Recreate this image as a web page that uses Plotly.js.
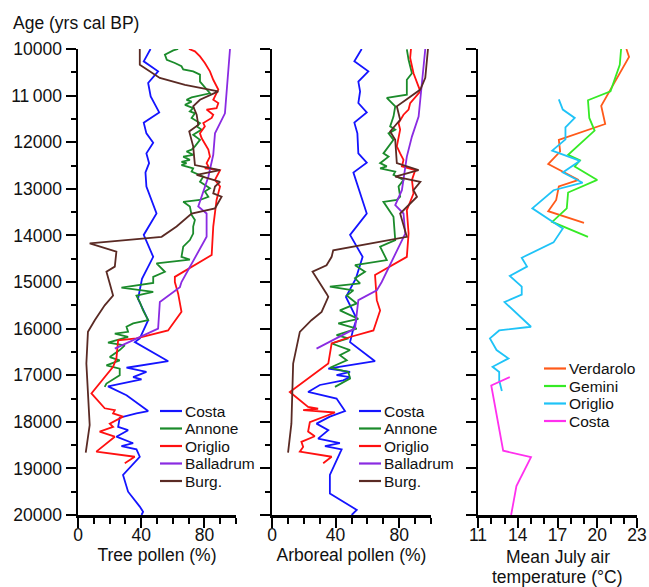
<!DOCTYPE html>
<html>
<head>
<meta charset="utf-8">
<script src="https://cdn.plot.ly/plotly-3.0.1.min.js"></script>
<style>
  html, body { margin: 0; padding: 0; background: #fff; }
  #chart { width: 649px; height: 587px; }
</style>
</head>
<body>
<div id="chart"></div>
<script>
// ---------- Tree pollen (%) ----------
const costaTreeAge = [10000,10265,10480,10730,11020,11360,11580,11810,12010,12240,12450,12650,12950,13530,13990,14460,14930,15360,15820,16210,16290,16700,16840,16930,17040,17090,17240,17430,17770,17820,17910,18110,18180,18320,18460,18520,18590,18750,19140,19500,19820,19930,20000];
const costaTreeVal = [45.9,41.6,50.7,44.4,46,51.4,41.6,43.3,47.6,43.3,45,42.7,43.3,49.7,41.6,47.6,40.5,38,44.4,39.1,36,57.1,30.7,43.3,34.9,40.2,19,30.7,44.4,37,26.4,25.4,31.7,24.3,34.9,27.5,37,39.1,28.5,31.7,39.1,41.2,40.2];

const annoneTreeAge = [10000,10030,10120,10230,10300,10370,10440,10480,10550,10700,10950,11040,11090,11130,11200,11270,11340,11380,11480,11590,11660,11730,11840,11950,12090,12160,12200,12270,12310,12380,12420,12450,12490,12520,12560,12630,12700,12740,12850,12920,12990,13060,13170,13240,13280,13380,13560,13670,13810,13960,14100,14240,14460,14520,14600,14780,14890,15020,15120,15210,15290,15430,15610,15820,15890,15960,16070,16110,16180,16300,16360,16460,16610,16680,16790,16860,17000,17180,17250];
const annoneTreeVal = [63.4,60.3,55,56.2,61.3,65.5,66.6,72.9,77.2,77.2,83.5,71.9,68.7,71.9,67.7,72.9,70.8,74,71.9,77.2,75.1,78.2,72.9,77.2,74,71.9,68.7,72.9,66.6,70.8,65.5,68.7,65.5,68.7,72.9,71.9,77.2,79.3,77.2,80.3,83.5,80.3,82.5,77.2,66.6,70.8,71.9,74,72.9,72.9,70.8,66.6,65.5,70.8,49.7,55,47.6,47.6,27.5,47.6,37,39.1,41.2,44.4,34.9,30.7,31.7,23.3,31.7,19,29.6,26.4,20.1,26.4,18,26.4,26.4,18,16.9];

const origlioTreeAge = [10000,10050,10160,10300,10480,10660,10870,11090,11160,11270,11300,11410,11480,11590,11660,11810,11910,12020,12160,12310,12450,12520,12560,12600,12810,12950,13240,13810,14420,14890,15000,15250,15640,16040,16210,16250,16640,16820,17390,17710,17750,17820,17890,18040,18110,18210,18320,18640,18750,18890];
const origlioTreeVal = [70.2,74,77.2,80.3,83.5,85.6,88.8,85.6,88.8,87.7,81.4,85.6,84.6,79.3,80.3,77.2,78.2,80.3,82.5,83.5,81.4,82.5,80.3,89.9,86.7,89.9,87.7,85.6,84.6,61.3,61.3,63.4,65.5,57,37,25.4,24.3,22.2,8.5,16.9,23.3,22.2,28.5,20.1,22.2,13.7,23.3,11.6,35.9,29.6];

const balladrumTreeAge = [10000,11380,11810,12270,12740,13380,13530,14030,15000,15110,15430,16000,16430];
const balladrumTreeVal = [96.2,93,86.7,85.6,82.5,76.1,81.4,81.4,65.5,64.5,51.8,50.7,23.3];

const burgTreeAge = [10000,10340,10620,10770,10910,11090,11230,11410,11630,11770,12090,12490,12600,12700,12850,12950,13100,13170,13420,13530,13810,14030,14170,14350,14670,14780,15030,15290,15500,15820,16070,16750,18070,18660];
const burgTreeVal = [39.1,39.1,51.8,67.7,88.8,77.2,72.9,75.1,76.1,70.4,72.9,74,89.9,75.1,89.9,86.7,85.6,90.9,86.7,71.9,62.4,52.9,7.4,24.3,23.3,18,20.1,22.2,16.9,10.6,6.3,5.3,7.4,4.9];

// ---------- Arboreal pollen (%) ----------
const costaApAge = [10000,10265,10480,10700,10910,11160,11360,11580,11810,12240,12440,12650,13530,13990,14460,14930,15320,15790,16000,16290,16700,16860,16930,17000,17040,17110,17210,17360,17500,17770,17890,18040,18180,18360,18460,18520,18590,19140,19540,19890,20000];
const costaApVal = [56.4,51.8,60.6,54.3,55.4,54.3,59.6,51.8,53.7,54.3,59.6,51.2,59.6,49.1,57,52.7,46.5,53.3,51.2,49.1,64.8,35.4,49.1,40.6,49.1,44.8,30.1,22.7,40.6,45.9,36.4,28,35.4,29,42.7,33.3,43.8,36.4,36.4,53.3,50.1];

const annoneApAge = [10010,10230,10520,10660,10980,11050,11230,11450,11660,11730,11810,11950,12240,12310,12450,12520,12560,12630,12700,12810,12950,13170,13240,13280,13600,14100,14240,14530,14640,14780,14920,15030,15100,15180,15290,15460,15610,15790,15890,16000,16140,16210,16320,16460,16570,16680,16840,16930,17070,17250];
const annoneApVal = [84.8,85.9,88,84.8,84.8,72.2,77.5,76.4,74.3,77.5,73.3,76.4,70.1,73.3,68,72.2,68,77.5,76.4,82.7,79.6,80.6,78.5,70.1,76.4,77.5,68,72.2,52.2,58.5,52.2,55.4,36.4,51.2,47,53.3,42.7,54.3,41.7,53.3,40.6,48,37.5,49.1,42.7,47,36.4,48,49.1,39.6];

const origlioApAge = [10000,10190,10520,10910,11160,11300,11410,11590,11730,12090,12240,12380,12520,12600,12810,13100,13460,13960,14460,14850,15390,15610,16040,16180,16320,16750,17360,17680,17720,17750,17800,18010,18210,18310,18430,18540,18640,18750,18890];
const origlioApVal = [87.4,86.9,89,93.3,86.9,85.9,82.7,79.6,80.6,78.5,80.6,82.7,81.7,90.1,88,89,84.8,85.9,84.8,64.8,65.9,68,63.8,49.1,37.5,35.4,11.2,22.7,29,19.6,39.6,23.8,22.7,26.9,18.5,19.6,17.5,37.5,32.2];

const balladrumApAge = [10000,10980,11450,11880,12310,13030,13350,13530,13960,15000,15180,15390,16000,16430];
const balladrumApVal = [96.4,93.3,92.2,88,84.8,81.7,77.5,82.7,83.8,69,65.9,54.3,52.2,28];

const burgApAge = [10000,10620,10870,11230,11520,11770,11950,12450,12600,12740,12850,13030,13170,13530,14030,14320,14460,14640,14780,15070,15250,15320,15640,15820,16070,16750,18040,18660];
const burgApVal = [98.1,96.4,93.3,78.5,80.6,74.3,77.5,78.5,92.2,77.5,93.3,89,91.2,80.6,84.8,38.5,37.5,34.3,25.5,31.2,34.3,35.4,31.2,24.8,17.5,13.3,12.2,10.1];

// ---------- Mean July air temperature (°C) ----------
const verdaroloAge = [10000,10170,11220,11610,11950,12200,12470,12810,12950,13240,13480,13730];
const verdaroloVal = [22.2,22.4,20.3,20.6,17.1,17.2,16.3,18.6,17.1,16.9,16.3,19.0];

const geminiAge = [10000,10340,10910,11100,11480,11750,12270,12390,12520,12810,13080,13420,13710,14030];
const geminiVal = [21.8,21.7,21.0,19.3,19.4,19.8,17.8,18.7,18.3,20.0,17.8,17.7,16.6,19.3];

const origlioTempAge = [11080,11300,11480,11680,11940,12180,12400,12650,12870,13030,13420,13850,14150,14480,14670,14870,15100,15270,15430,15960,16040,16210,16460,16640,16820,16930,17110,17340];
const origlioTempVal = [17.1,17.4,18.3,17.6,17.6,16.6,18.7,17.4,18.9,16.7,15.1,17.4,16.7,14.3,14.7,13.4,14.3,14.3,13.0,15.0,12.6,11.9,12.4,13.3,12.1,12.6,12.6,12.8];

const costaTempAge = [17040,17220,18620,18760,19380,20000];
const costaTempVal = [13.4,12.0,12.9,15.0,13.9,13.5];

// ---------- Labels ----------
const pollenSites = ['Costa', 'Annone', 'Origlio', 'Balladrum', 'Burg.'];
const pollenColors = ['#1414ff', '#1b8b2b', '#ff1010', '#8a2be2', '#5a2a24'];
const tempSites = ['Verdarolo', 'Gemini', 'Origlio', 'Costa'];
const tempColors = ['#ff5a1a', '#35ea25', '#1fc3f7', '#ff30ee'];

const ageTicks = [10000,11000,12000,13000,14000,15000,16000,17000,18000,19000,20000];
const ageTickText = ['10000','11\u2009000','12000','13000','14000','15000','16000','17000','18000','19000','20000'];
const pollenTicks = [0, 40, 80];
const tempTicks = [11, 14, 17, 20, 23];
const tempTitleLines = ['Mean July air', 'temperature (°C)'];

// ---------- Layout helpers ----------
const W = 649, H = 587;
const px = x => x / W;
const py = y => 1 - y / H;
const FONT = 'Arial, "Liberation Sans", Helvetica, sans-serif';
const LW = 1.8;
const TXT = '#111';

const treeSeries = [[costaTreeAge, costaTreeVal], [annoneTreeAge, annoneTreeVal], [origlioTreeAge, origlioTreeVal], [balladrumTreeAge, balladrumTreeVal], [burgTreeAge, burgTreeVal]];
const apSeries = [[costaApAge, costaApVal], [annoneApAge, annoneApVal], [origlioApAge, origlioApVal], [balladrumApAge, balladrumApVal], [burgApAge, burgApVal]];
const tempSeries = [[verdaroloAge, verdaroloVal], [geminiAge, geminiVal], [origlioTempAge, origlioTempVal], [costaTempAge, costaTempVal]];

const traces = [];
function addPanel(series, names, colors, xa, ya) {
  series.forEach(([age, val], i) => {
    traces.push({
      type: 'scatter', mode: 'lines', x: val, y: age, name: names[i],
      xaxis: xa, yaxis: ya, line: { color: colors[i], width: LW },
      showlegend: false, hoverinfo: 'skip'
    });
  });
}
addPanel(treeSeries, pollenSites, pollenColors, 'x', 'y');
addPanel(apSeries, pollenSites, pollenColors, 'x2', 'y2');
addPanel(tempSeries, tempSites, tempColors, 'x3', 'y3');

const yDomain = [py(515), py(49)];
const minorAge = [];
for (let a = 10500; a < 20000; a += 1000) minorAge.push(a);

function yAxis(anchor, labels) {
  return {
    domain: yDomain, anchor: anchor, range: [20000, 10000],
    tickmode: 'array', tickvals: ageTicks, ticktext: ageTickText,
    showticklabels: labels,
    ticks: 'outside', ticklen: 10, tickwidth: 2, tickcolor: '#000',
    minor: { tickmode: 'array', tickvals: minorAge, ticks: 'outside', ticklen: 5, tickwidth: 2, tickcolor: '#000' },
    showline: true, linewidth: 2.5, linecolor: '#000',
    showgrid: false, zeroline: false,
    tickfont: { family: FONT, size: 17.5, color: TXT }
  };
}

function xAxis(anchor, domain, range, major, minor, title) {
  return {
    domain: domain, anchor: anchor, range: range,
    tickmode: 'array', tickvals: major,
    ticks: 'outside', ticklen: 10, tickwidth: 2, tickcolor: '#000',
    ticklabelstandoff: -8,
    minor: { tickmode: 'array', tickvals: minor, ticks: 'outside', ticklen: 6, tickwidth: 2, tickcolor: '#000' },
    showline: true, linewidth: 2.5, linecolor: '#000',
    showgrid: false, zeroline: false,
    tickfont: { family: FONT, size: 17.5, color: TXT },
    title: { text: title, font: { family: FONT, size: 17.5, color: TXT }, standoff: 5 }
  };
}

const pollenMinor = [10, 20, 30, 50, 60, 70, 90, 100];
const tempMinor = [12, 13, 15, 16, 18, 19, 21, 22];

// Legend blocks: short line sample followed by the site name
const shapes = [];
const annotations = [
  { xref: 'paper', yref: 'paper', x: px(11), y: py(23), xanchor: 'left', yanchor: 'middle',
    text: 'Age (yrs cal BP)', showarrow: false, font: { family: FONT, size: 17.5, color: TXT } }
];
// two-line title under the temperature axis
tempTitleLines.forEach((line, i) => {
  annotations.push({ xref: 'paper', yref: 'paper', x: px(557.5), y: py(557 + i * 19.5), xanchor: 'center', yanchor: 'middle',
    text: line, showarrow: false, font: { family: FONT, size: 17.5, color: TXT } });
});
function addLegend(names, colors, x0, y0, step) {
  names.forEach((name, i) => {
    const yy = y0 + i * step;
    shapes.push({ type: 'line', xref: 'paper', yref: 'paper', x0: px(x0), x1: px(x0 + 22), y0: py(yy), y1: py(yy),
      line: { color: colors[i], width: 2.2 } });
    annotations.push({ xref: 'paper', yref: 'paper', x: px(x0 + 23), y: py(yy), xanchor: 'left', yanchor: 'middle',
      text: name, showarrow: false, font: { family: FONT, size: 15.5, color: TXT } });
  });
}
addLegend(pollenSites, pollenColors, 160, 411, 17.5);
addLegend(pollenSites, pollenColors, 359, 411, 17.5);
addLegend(tempSites, tempColors, 544, 368.5, 17.5);

const layout = {
  width: W, height: H,
  margin: { l: 0, r: 0, t: 0, b: 0, pad: 0 },
  paper_bgcolor: '#fff', plot_bgcolor: '#fff',
  font: { family: FONT, color: TXT },
  showlegend: false,
  xaxis: xAxis('y', [px(78), px(236)], [0, 100], pollenTicks, pollenMinor, 'Tree pollen (%)'),
  xaxis2: xAxis('y2', [px(272), px(431)], [0, 100], pollenTicks, pollenMinor, 'Arboreal pollen (%)'),
  xaxis3: xAxis('y3', [px(478), px(637)], [11, 23], tempTicks, tempMinor, ''),
  yaxis: yAxis('x', true),
  yaxis2: yAxis('x2', false),
  yaxis3: yAxis('x3', false),
  shapes: shapes,
  annotations: annotations
};

Plotly.newPlot('chart', traces, layout, { displayModeBar: false, staticPlot: true });
</script>
</body>
</html>
